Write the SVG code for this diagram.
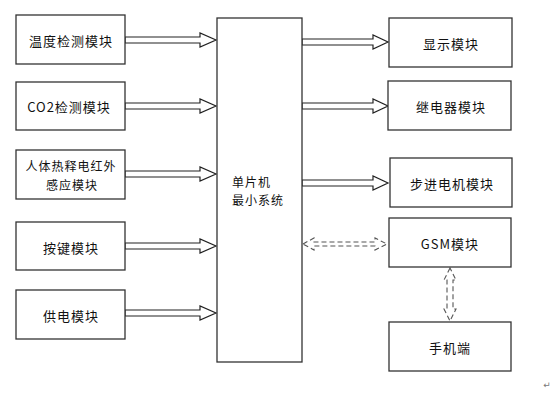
<svg xmlns="http://www.w3.org/2000/svg" width="557" height="412" viewBox="0 0 557 412">
<style>
.box{fill:#fff;stroke:#333;stroke-width:1.3}
.t{font-family:"Noto Sans CJK SC","Liberation Sans",sans-serif;font-size:13px;fill:#111;text-anchor:middle;dominant-baseline:central;letter-spacing:1px}
.t2{font-size:12px}
.ha{fill:#fff;stroke:#222;stroke-width:1.2;stroke-linejoin:miter}
.da{fill:none;stroke:#555;stroke-width:1.1;stroke-dasharray:5,3}
</style>
<rect width="557" height="412" fill="#fff"/>
<g id="connectors">
<path class="ha" d="M125,37 H200 V33 L216,40 L200,47 V43 H125 Z"/>
<path class="ha" d="M125,103 H200 V99 L216,106 L200,113 V109 H125 Z"/>
<path class="ha" d="M125,171 H200 V167 L216,174 L200,181 V177 H125 Z"/>
<path class="ha" d="M125,243 H200 V239 L216,246 L200,253 V249 H125 Z"/>
<path class="ha" d="M125,310 H200 V306 L216,313 L200,320 V316 H125 Z"/>
<path class="ha" d="M302,39 H373 V35 L388,42 L373,49 V45 H302 Z"/>
<path class="ha" d="M302,103 H373 V99 L388,106 L373,113 V109 H302 Z"/>
<path class="ha" d="M302,180 H373 V176 L388,183 L373,190 V186 H302 Z"/>
<path class="da" d="M303,244 L314,238 V242 H375 V238 L387,244 L375,250 V246 H314 V250 Z"/>
<path class="da" d="M450,268 L444,280 H447 V309 H444 L450,321 L456,309 H453 V280 H456 Z"/>
</g>
<g id="n-temp"><rect class="box" x="16" y="15" width="109" height="49"/><text class="t" x="71" y="40">温度检测模块</text></g>
<g id="n-co2"><rect class="box" x="16" y="82" width="109" height="48"/><text class="t" x="69" y="106">CO2检测模块</text></g>
<g id="n-pir"><rect class="box" x="16" y="150" width="109" height="49"/><text class="t t2" x="71" y="165">人体热释电红外</text><text class="t t2" x="72" y="184">感应模块</text></g>
<g id="n-key"><rect class="box" x="16" y="222" width="109" height="48"/><text class="t" x="71" y="247">按键模块</text></g>
<g id="n-power"><rect class="box" x="16" y="290" width="109" height="49"/><text class="t" x="71" y="315">供电模块</text></g>
<g id="n-mcu"><rect class="box" x="217" y="18" width="85" height="344"/><text class="t t2" x="232" y="181" style="text-anchor:start">单片机</text><text class="t t2" x="232" y="199" style="text-anchor:start">最小系统</text></g>
<g id="n-display"><rect class="box" x="389" y="18" width="123" height="49"/><text class="t" x="451" y="43">显示模块</text></g>
<g id="n-relay"><rect class="box" x="388" y="81" width="123" height="49"/><text class="t" x="451" y="106">继电器模块</text></g>
<g id="n-stepper"><rect class="box" x="390" y="158" width="122" height="49"/><text class="t" x="452" y="183">步进电机模块</text></g>
<g id="n-gsm"><rect class="box" x="389" y="218" width="122" height="49"/><text class="t" x="450" y="243">GSM模块</text></g>
<g id="n-phone"><rect class="box" x="389" y="322" width="122" height="49"/><text class="t" x="450" y="347">手机端</text></g>
<text x="547" y="388" font-family="DejaVu Sans,sans-serif" font-size="9" fill="#777" text-anchor="middle">↵</text>
</svg>
